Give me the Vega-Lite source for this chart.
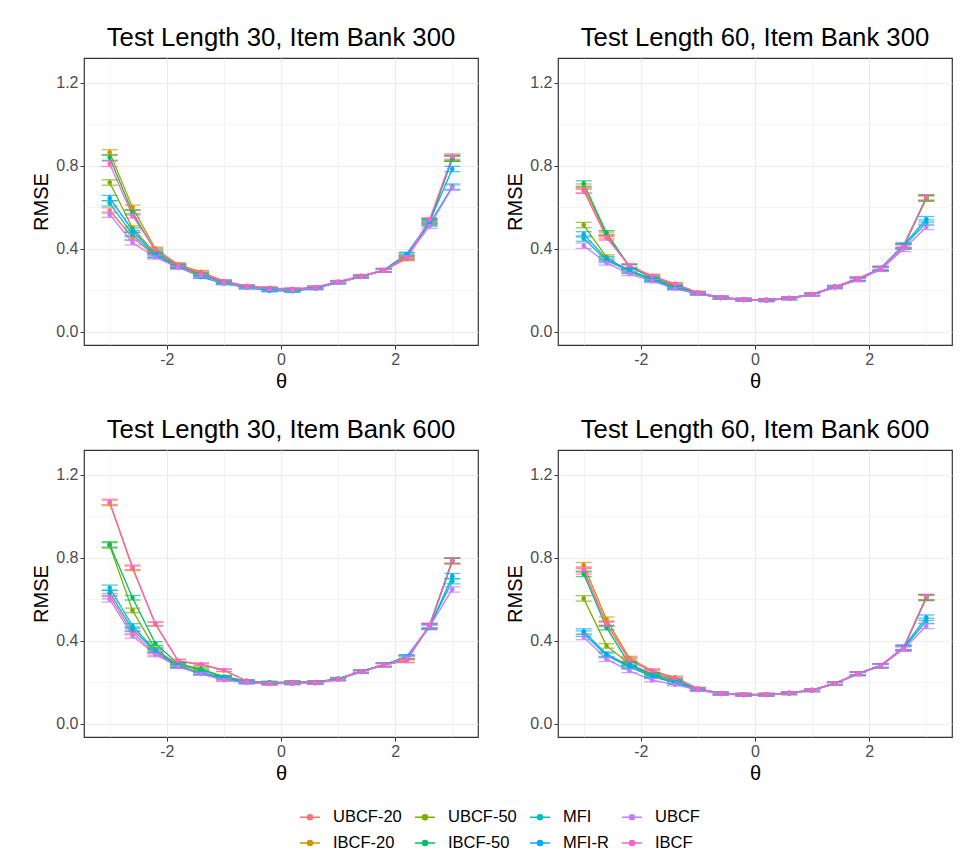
{
"$schema": "https://vega.github.io/schema/vega-lite/v6.json",
"padding": {"left": 31, "top": 24, "right": 10, "bottom": 10},
"config": {
 "font": "Liberation Sans",
 "view": {"stroke": "#333333", "strokeWidth": 1.2},
 "axis": {"labelFont": "Liberation Sans", "labelFontSize": 16, "labelColor": "#4D4D4D", "titleFont": "Liberation Sans", "titleFontSize": 20, "titleFontWeight": "normal", "titleColor": "black", "tickColor": "#333333", "tickSize": 4, "labelPadding": 2, "domain": false, "gridColor": "#EBEBEB"},
 "header": {"labelFont": "Liberation Sans", "labelFontSize": 25.7, "labelColor": "black"}
},
"data": {"values": [
{"p":"Test Length 30, Item Bank 300","m":"UBCF-20","t":-3,"r":0.585,"e":0.013},{"p":"Test Length 30, Item Bank 300","m":"UBCF-20","t":-2.6,"r":0.455,"e":0.011},{"p":"Test Length 30, Item Bank 300","m":"UBCF-20","t":-2.2,"r":0.365,"e":0.009},{"p":"Test Length 30, Item Bank 300","m":"UBCF-20","t":-1.8,"r":0.315,"e":0.008},{"p":"Test Length 30, Item Bank 300","m":"UBCF-20","t":-1.4,"r":0.275,"e":0.006},{"p":"Test Length 30, Item Bank 300","m":"UBCF-20","t":-1,"r":0.24,"e":0.006},{"p":"Test Length 30, Item Bank 300","m":"UBCF-20","t":-0.6,"r":0.217,"e":0.006},{"p":"Test Length 30, Item Bank 300","m":"UBCF-20","t":-0.2,"r":0.207,"e":0.006},{"p":"Test Length 30, Item Bank 300","m":"UBCF-20","t":0.2,"r":0.202,"e":0.006},{"p":"Test Length 30, Item Bank 300","m":"UBCF-20","t":0.6,"r":0.213,"e":0.006},{"p":"Test Length 30, Item Bank 300","m":"UBCF-20","t":1,"r":0.24,"e":0.006},{"p":"Test Length 30, Item Bank 300","m":"UBCF-20","t":1.4,"r":0.267,"e":0.006},{"p":"Test Length 30, Item Bank 300","m":"UBCF-20","t":1.8,"r":0.296,"e":0.008},{"p":"Test Length 30, Item Bank 300","m":"UBCF-20","t":2.2,"r":0.352,"e":0.009},{"p":"Test Length 30, Item Bank 300","m":"UBCF-20","t":2.6,"r":0.535,"e":0.011},{"p":"Test Length 30, Item Bank 300","m":"UBCF-20","t":3,"r":0.835,"e":0.013},
{"p":"Test Length 30, Item Bank 300","m":"IBCF-20","t":-3,"r":0.865,"e":0.013},{"p":"Test Length 30, Item Bank 300","m":"IBCF-20","t":-2.6,"r":0.6,"e":0.011},{"p":"Test Length 30, Item Bank 300","m":"IBCF-20","t":-2.2,"r":0.4,"e":0.009},{"p":"Test Length 30, Item Bank 300","m":"IBCF-20","t":-1.8,"r":0.325,"e":0.008},{"p":"Test Length 30, Item Bank 300","m":"IBCF-20","t":-1.4,"r":0.29,"e":0.006},{"p":"Test Length 30, Item Bank 300","m":"IBCF-20","t":-1,"r":0.245,"e":0.006},{"p":"Test Length 30, Item Bank 300","m":"IBCF-20","t":-0.6,"r":0.22,"e":0.006},{"p":"Test Length 30, Item Bank 300","m":"IBCF-20","t":-0.2,"r":0.21,"e":0.006},{"p":"Test Length 30, Item Bank 300","m":"IBCF-20","t":0.2,"r":0.205,"e":0.006},{"p":"Test Length 30, Item Bank 300","m":"IBCF-20","t":0.6,"r":0.215,"e":0.006},{"p":"Test Length 30, Item Bank 300","m":"IBCF-20","t":1,"r":0.24,"e":0.006},{"p":"Test Length 30, Item Bank 300","m":"IBCF-20","t":1.4,"r":0.27,"e":0.006},{"p":"Test Length 30, Item Bank 300","m":"IBCF-20","t":1.8,"r":0.295,"e":0.008},{"p":"Test Length 30, Item Bank 300","m":"IBCF-20","t":2.2,"r":0.355,"e":0.009},{"p":"Test Length 30, Item Bank 300","m":"IBCF-20","t":2.6,"r":0.53,"e":0.011},{"p":"Test Length 30, Item Bank 300","m":"IBCF-20","t":3,"r":0.84,"e":0.013},
{"p":"Test Length 30, Item Bank 300","m":"UBCF-50","t":-3,"r":0.72,"e":0.013},{"p":"Test Length 30, Item Bank 300","m":"UBCF-50","t":-2.6,"r":0.5,"e":0.011},{"p":"Test Length 30, Item Bank 300","m":"UBCF-50","t":-2.2,"r":0.38,"e":0.009},{"p":"Test Length 30, Item Bank 300","m":"UBCF-50","t":-1.8,"r":0.318,"e":0.008},{"p":"Test Length 30, Item Bank 300","m":"UBCF-50","t":-1.4,"r":0.275,"e":0.006},{"p":"Test Length 30, Item Bank 300","m":"UBCF-50","t":-1,"r":0.24,"e":0.006},{"p":"Test Length 30, Item Bank 300","m":"UBCF-50","t":-0.6,"r":0.217,"e":0.006},{"p":"Test Length 30, Item Bank 300","m":"UBCF-50","t":-0.2,"r":0.205,"e":0.006},{"p":"Test Length 30, Item Bank 300","m":"UBCF-50","t":0.2,"r":0.2,"e":0.006},{"p":"Test Length 30, Item Bank 300","m":"UBCF-50","t":0.6,"r":0.212,"e":0.006},{"p":"Test Length 30, Item Bank 300","m":"UBCF-50","t":1,"r":0.24,"e":0.006},{"p":"Test Length 30, Item Bank 300","m":"UBCF-50","t":1.4,"r":0.268,"e":0.006},{"p":"Test Length 30, Item Bank 300","m":"UBCF-50","t":1.8,"r":0.296,"e":0.008},{"p":"Test Length 30, Item Bank 300","m":"UBCF-50","t":2.2,"r":0.365,"e":0.009},{"p":"Test Length 30, Item Bank 300","m":"UBCF-50","t":2.6,"r":0.525,"e":0.011},{"p":"Test Length 30, Item Bank 300","m":"UBCF-50","t":3,"r":0.835,"e":0.013},
{"p":"Test Length 30, Item Bank 300","m":"IBCF-50","t":-3,"r":0.84,"e":0.013},{"p":"Test Length 30, Item Bank 300","m":"IBCF-50","t":-2.6,"r":0.575,"e":0.011},{"p":"Test Length 30, Item Bank 300","m":"IBCF-50","t":-2.2,"r":0.39,"e":0.009},{"p":"Test Length 30, Item Bank 300","m":"IBCF-50","t":-1.8,"r":0.32,"e":0.008},{"p":"Test Length 30, Item Bank 300","m":"IBCF-50","t":-1.4,"r":0.28,"e":0.006},{"p":"Test Length 30, Item Bank 300","m":"IBCF-50","t":-1,"r":0.24,"e":0.006},{"p":"Test Length 30, Item Bank 300","m":"IBCF-50","t":-0.6,"r":0.218,"e":0.006},{"p":"Test Length 30, Item Bank 300","m":"IBCF-50","t":-0.2,"r":0.207,"e":0.006},{"p":"Test Length 30, Item Bank 300","m":"IBCF-50","t":0.2,"r":0.203,"e":0.006},{"p":"Test Length 30, Item Bank 300","m":"IBCF-50","t":0.6,"r":0.213,"e":0.006},{"p":"Test Length 30, Item Bank 300","m":"IBCF-50","t":1,"r":0.24,"e":0.006},{"p":"Test Length 30, Item Bank 300","m":"IBCF-50","t":1.4,"r":0.268,"e":0.006},{"p":"Test Length 30, Item Bank 300","m":"IBCF-50","t":1.8,"r":0.297,"e":0.008},{"p":"Test Length 30, Item Bank 300","m":"IBCF-50","t":2.2,"r":0.36,"e":0.009},{"p":"Test Length 30, Item Bank 300","m":"IBCF-50","t":2.6,"r":0.535,"e":0.011},{"p":"Test Length 30, Item Bank 300","m":"IBCF-50","t":3,"r":0.835,"e":0.013},
{"p":"Test Length 30, Item Bank 300","m":"MFI","t":-3,"r":0.62,"e":0.013},{"p":"Test Length 30, Item Bank 300","m":"MFI","t":-2.6,"r":0.47,"e":0.011},{"p":"Test Length 30, Item Bank 300","m":"MFI","t":-2.2,"r":0.368,"e":0.009},{"p":"Test Length 30, Item Bank 300","m":"MFI","t":-1.8,"r":0.312,"e":0.008},{"p":"Test Length 30, Item Bank 300","m":"MFI","t":-1.4,"r":0.265,"e":0.006},{"p":"Test Length 30, Item Bank 300","m":"MFI","t":-1,"r":0.233,"e":0.006},{"p":"Test Length 30, Item Bank 300","m":"MFI","t":-0.6,"r":0.213,"e":0.006},{"p":"Test Length 30, Item Bank 300","m":"MFI","t":-0.2,"r":0.2,"e":0.006},{"p":"Test Length 30, Item Bank 300","m":"MFI","t":0.2,"r":0.197,"e":0.006},{"p":"Test Length 30, Item Bank 300","m":"MFI","t":0.6,"r":0.21,"e":0.006},{"p":"Test Length 30, Item Bank 300","m":"MFI","t":1,"r":0.238,"e":0.006},{"p":"Test Length 30, Item Bank 300","m":"MFI","t":1.4,"r":0.265,"e":0.006},{"p":"Test Length 30, Item Bank 300","m":"MFI","t":1.8,"r":0.297,"e":0.008},{"p":"Test Length 30, Item Bank 300","m":"MFI","t":2.2,"r":0.372,"e":0.009},{"p":"Test Length 30, Item Bank 300","m":"MFI","t":2.6,"r":0.52,"e":0.011},{"p":"Test Length 30, Item Bank 300","m":"MFI","t":3,"r":0.7,"e":0.013},
{"p":"Test Length 30, Item Bank 300","m":"MFI-R","t":-3,"r":0.645,"e":0.013},{"p":"Test Length 30, Item Bank 300","m":"MFI-R","t":-2.6,"r":0.49,"e":0.011},{"p":"Test Length 30, Item Bank 300","m":"MFI-R","t":-2.2,"r":0.37,"e":0.009},{"p":"Test Length 30, Item Bank 300","m":"MFI-R","t":-1.8,"r":0.315,"e":0.008},{"p":"Test Length 30, Item Bank 300","m":"MFI-R","t":-1.4,"r":0.265,"e":0.006},{"p":"Test Length 30, Item Bank 300","m":"MFI-R","t":-1,"r":0.235,"e":0.006},{"p":"Test Length 30, Item Bank 300","m":"MFI-R","t":-0.6,"r":0.215,"e":0.006},{"p":"Test Length 30, Item Bank 300","m":"MFI-R","t":-0.2,"r":0.2,"e":0.006},{"p":"Test Length 30, Item Bank 300","m":"MFI-R","t":0.2,"r":0.197,"e":0.006},{"p":"Test Length 30, Item Bank 300","m":"MFI-R","t":0.6,"r":0.21,"e":0.006},{"p":"Test Length 30, Item Bank 300","m":"MFI-R","t":1,"r":0.238,"e":0.006},{"p":"Test Length 30, Item Bank 300","m":"MFI-R","t":1.4,"r":0.266,"e":0.006},{"p":"Test Length 30, Item Bank 300","m":"MFI-R","t":1.8,"r":0.298,"e":0.008},{"p":"Test Length 30, Item Bank 300","m":"MFI-R","t":2.2,"r":0.375,"e":0.009},{"p":"Test Length 30, Item Bank 300","m":"MFI-R","t":2.6,"r":0.53,"e":0.011},{"p":"Test Length 30, Item Bank 300","m":"MFI-R","t":3,"r":0.785,"e":0.013},
{"p":"Test Length 30, Item Bank 300","m":"UBCF","t":-3,"r":0.565,"e":0.013},{"p":"Test Length 30, Item Bank 300","m":"UBCF","t":-2.6,"r":0.43,"e":0.011},{"p":"Test Length 30, Item Bank 300","m":"UBCF","t":-2.2,"r":0.36,"e":0.009},{"p":"Test Length 30, Item Bank 300","m":"UBCF","t":-1.8,"r":0.31,"e":0.008},{"p":"Test Length 30, Item Bank 300","m":"UBCF","t":-1.4,"r":0.27,"e":0.006},{"p":"Test Length 30, Item Bank 300","m":"UBCF","t":-1,"r":0.235,"e":0.006},{"p":"Test Length 30, Item Bank 300","m":"UBCF","t":-0.6,"r":0.215,"e":0.006},{"p":"Test Length 30, Item Bank 300","m":"UBCF","t":-0.2,"r":0.205,"e":0.006},{"p":"Test Length 30, Item Bank 300","m":"UBCF","t":0.2,"r":0.2,"e":0.006},{"p":"Test Length 30, Item Bank 300","m":"UBCF","t":0.6,"r":0.212,"e":0.006},{"p":"Test Length 30, Item Bank 300","m":"UBCF","t":1,"r":0.238,"e":0.006},{"p":"Test Length 30, Item Bank 300","m":"UBCF","t":1.4,"r":0.265,"e":0.006},{"p":"Test Length 30, Item Bank 300","m":"UBCF","t":1.8,"r":0.295,"e":0.008},{"p":"Test Length 30, Item Bank 300","m":"UBCF","t":2.2,"r":0.36,"e":0.009},{"p":"Test Length 30, Item Bank 300","m":"UBCF","t":2.6,"r":0.51,"e":0.011},{"p":"Test Length 30, Item Bank 300","m":"UBCF","t":3,"r":0.695,"e":0.013},
{"p":"Test Length 30, Item Bank 300","m":"IBCF","t":-3,"r":0.81,"e":0.013},{"p":"Test Length 30, Item Bank 300","m":"IBCF","t":-2.6,"r":0.56,"e":0.011},{"p":"Test Length 30, Item Bank 300","m":"IBCF","t":-2.2,"r":0.395,"e":0.009},{"p":"Test Length 30, Item Bank 300","m":"IBCF","t":-1.8,"r":0.322,"e":0.008},{"p":"Test Length 30, Item Bank 300","m":"IBCF","t":-1.4,"r":0.285,"e":0.006},{"p":"Test Length 30, Item Bank 300","m":"IBCF","t":-1,"r":0.245,"e":0.006},{"p":"Test Length 30, Item Bank 300","m":"IBCF","t":-0.6,"r":0.222,"e":0.006},{"p":"Test Length 30, Item Bank 300","m":"IBCF","t":-0.2,"r":0.212,"e":0.006},{"p":"Test Length 30, Item Bank 300","m":"IBCF","t":0.2,"r":0.207,"e":0.006},{"p":"Test Length 30, Item Bank 300","m":"IBCF","t":0.6,"r":0.216,"e":0.006},{"p":"Test Length 30, Item Bank 300","m":"IBCF","t":1,"r":0.242,"e":0.006},{"p":"Test Length 30, Item Bank 300","m":"IBCF","t":1.4,"r":0.27,"e":0.006},{"p":"Test Length 30, Item Bank 300","m":"IBCF","t":1.8,"r":0.298,"e":0.008},{"p":"Test Length 30, Item Bank 300","m":"IBCF","t":2.2,"r":0.358,"e":0.009},{"p":"Test Length 30, Item Bank 300","m":"IBCF","t":2.6,"r":0.54,"e":0.011},{"p":"Test Length 30, Item Bank 300","m":"IBCF","t":3,"r":0.845,"e":0.013},
{"p":"Test Length 60, Item Bank 300","m":"UBCF-20","t":-3,"r":0.68,"e":0.013},{"p":"Test Length 60, Item Bank 300","m":"UBCF-20","t":-2.6,"r":0.46,"e":0.011},{"p":"Test Length 60, Item Bank 300","m":"UBCF-20","t":-2.2,"r":0.315,"e":0.009},{"p":"Test Length 60, Item Bank 300","m":"UBCF-20","t":-1.8,"r":0.268,"e":0.008},{"p":"Test Length 60, Item Bank 300","m":"UBCF-20","t":-1.4,"r":0.23,"e":0.006},{"p":"Test Length 60, Item Bank 300","m":"UBCF-20","t":-1,"r":0.189,"e":0.006},{"p":"Test Length 60, Item Bank 300","m":"UBCF-20","t":-0.6,"r":0.166,"e":0.006},{"p":"Test Length 60, Item Bank 300","m":"UBCF-20","t":-0.2,"r":0.156,"e":0.006},{"p":"Test Length 60, Item Bank 300","m":"UBCF-20","t":0.2,"r":0.154,"e":0.006},{"p":"Test Length 60, Item Bank 300","m":"UBCF-20","t":0.6,"r":0.163,"e":0.006},{"p":"Test Length 60, Item Bank 300","m":"UBCF-20","t":1,"r":0.181,"e":0.006},{"p":"Test Length 60, Item Bank 300","m":"UBCF-20","t":1.4,"r":0.217,"e":0.006},{"p":"Test Length 60, Item Bank 300","m":"UBCF-20","t":1.8,"r":0.256,"e":0.008},{"p":"Test Length 60, Item Bank 300","m":"UBCF-20","t":2.2,"r":0.306,"e":0.009},{"p":"Test Length 60, Item Bank 300","m":"UBCF-20","t":2.6,"r":0.41,"e":0.011},{"p":"Test Length 60, Item Bank 300","m":"UBCF-20","t":3,"r":0.645,"e":0.013},
{"p":"Test Length 60, Item Bank 300","m":"IBCF-20","t":-3,"r":0.7,"e":0.013},{"p":"Test Length 60, Item Bank 300","m":"IBCF-20","t":-2.6,"r":0.47,"e":0.011},{"p":"Test Length 60, Item Bank 300","m":"IBCF-20","t":-2.2,"r":0.318,"e":0.009},{"p":"Test Length 60, Item Bank 300","m":"IBCF-20","t":-1.8,"r":0.265,"e":0.008},{"p":"Test Length 60, Item Bank 300","m":"IBCF-20","t":-1.4,"r":0.225,"e":0.006},{"p":"Test Length 60, Item Bank 300","m":"IBCF-20","t":-1,"r":0.188,"e":0.006},{"p":"Test Length 60, Item Bank 300","m":"IBCF-20","t":-0.6,"r":0.166,"e":0.006},{"p":"Test Length 60, Item Bank 300","m":"IBCF-20","t":-0.2,"r":0.156,"e":0.006},{"p":"Test Length 60, Item Bank 300","m":"IBCF-20","t":0.2,"r":0.154,"e":0.006},{"p":"Test Length 60, Item Bank 300","m":"IBCF-20","t":0.6,"r":0.163,"e":0.006},{"p":"Test Length 60, Item Bank 300","m":"IBCF-20","t":1,"r":0.181,"e":0.006},{"p":"Test Length 60, Item Bank 300","m":"IBCF-20","t":1.4,"r":0.217,"e":0.006},{"p":"Test Length 60, Item Bank 300","m":"IBCF-20","t":1.8,"r":0.255,"e":0.008},{"p":"Test Length 60, Item Bank 300","m":"IBCF-20","t":2.2,"r":0.303,"e":0.009},{"p":"Test Length 60, Item Bank 300","m":"IBCF-20","t":2.6,"r":0.41,"e":0.011},{"p":"Test Length 60, Item Bank 300","m":"IBCF-20","t":3,"r":0.645,"e":0.013},
{"p":"Test Length 60, Item Bank 300","m":"UBCF-50","t":-3,"r":0.515,"e":0.013},{"p":"Test Length 60, Item Bank 300","m":"UBCF-50","t":-2.6,"r":0.36,"e":0.011},{"p":"Test Length 60, Item Bank 300","m":"UBCF-50","t":-2.2,"r":0.29,"e":0.009},{"p":"Test Length 60, Item Bank 300","m":"UBCF-50","t":-1.8,"r":0.252,"e":0.008},{"p":"Test Length 60, Item Bank 300","m":"UBCF-50","t":-1.4,"r":0.215,"e":0.006},{"p":"Test Length 60, Item Bank 300","m":"UBCF-50","t":-1,"r":0.185,"e":0.006},{"p":"Test Length 60, Item Bank 300","m":"UBCF-50","t":-0.6,"r":0.165,"e":0.006},{"p":"Test Length 60, Item Bank 300","m":"UBCF-50","t":-0.2,"r":0.155,"e":0.006},{"p":"Test Length 60, Item Bank 300","m":"UBCF-50","t":0.2,"r":0.153,"e":0.006},{"p":"Test Length 60, Item Bank 300","m":"UBCF-50","t":0.6,"r":0.162,"e":0.006},{"p":"Test Length 60, Item Bank 300","m":"UBCF-50","t":1,"r":0.18,"e":0.006},{"p":"Test Length 60, Item Bank 300","m":"UBCF-50","t":1.4,"r":0.216,"e":0.006},{"p":"Test Length 60, Item Bank 300","m":"UBCF-50","t":1.8,"r":0.254,"e":0.008},{"p":"Test Length 60, Item Bank 300","m":"UBCF-50","t":2.2,"r":0.304,"e":0.009},{"p":"Test Length 60, Item Bank 300","m":"UBCF-50","t":2.6,"r":0.415,"e":0.011},{"p":"Test Length 60, Item Bank 300","m":"UBCF-50","t":3,"r":0.642,"e":0.013},
{"p":"Test Length 60, Item Bank 300","m":"IBCF-50","t":-3,"r":0.715,"e":0.013},{"p":"Test Length 60, Item Bank 300","m":"IBCF-50","t":-2.6,"r":0.477,"e":0.011},{"p":"Test Length 60, Item Bank 300","m":"IBCF-50","t":-2.2,"r":0.315,"e":0.009},{"p":"Test Length 60, Item Bank 300","m":"IBCF-50","t":-1.8,"r":0.26,"e":0.008},{"p":"Test Length 60, Item Bank 300","m":"IBCF-50","t":-1.4,"r":0.22,"e":0.006},{"p":"Test Length 60, Item Bank 300","m":"IBCF-50","t":-1,"r":0.187,"e":0.006},{"p":"Test Length 60, Item Bank 300","m":"IBCF-50","t":-0.6,"r":0.166,"e":0.006},{"p":"Test Length 60, Item Bank 300","m":"IBCF-50","t":-0.2,"r":0.156,"e":0.006},{"p":"Test Length 60, Item Bank 300","m":"IBCF-50","t":0.2,"r":0.154,"e":0.006},{"p":"Test Length 60, Item Bank 300","m":"IBCF-50","t":0.6,"r":0.163,"e":0.006},{"p":"Test Length 60, Item Bank 300","m":"IBCF-50","t":1,"r":0.181,"e":0.006},{"p":"Test Length 60, Item Bank 300","m":"IBCF-50","t":1.4,"r":0.217,"e":0.006},{"p":"Test Length 60, Item Bank 300","m":"IBCF-50","t":1.8,"r":0.255,"e":0.008},{"p":"Test Length 60, Item Bank 300","m":"IBCF-50","t":2.2,"r":0.305,"e":0.009},{"p":"Test Length 60, Item Bank 300","m":"IBCF-50","t":2.6,"r":0.415,"e":0.011},{"p":"Test Length 60, Item Bank 300","m":"IBCF-50","t":3,"r":0.647,"e":0.013},
{"p":"Test Length 60, Item Bank 300","m":"MFI","t":-3,"r":0.45,"e":0.013},{"p":"Test Length 60, Item Bank 300","m":"MFI","t":-2.6,"r":0.345,"e":0.011},{"p":"Test Length 60, Item Bank 300","m":"MFI","t":-2.2,"r":0.292,"e":0.009},{"p":"Test Length 60, Item Bank 300","m":"MFI","t":-1.8,"r":0.25,"e":0.008},{"p":"Test Length 60, Item Bank 300","m":"MFI","t":-1.4,"r":0.21,"e":0.006},{"p":"Test Length 60, Item Bank 300","m":"MFI","t":-1,"r":0.184,"e":0.006},{"p":"Test Length 60, Item Bank 300","m":"MFI","t":-0.6,"r":0.164,"e":0.006},{"p":"Test Length 60, Item Bank 300","m":"MFI","t":-0.2,"r":0.154,"e":0.006},{"p":"Test Length 60, Item Bank 300","m":"MFI","t":0.2,"r":0.152,"e":0.006},{"p":"Test Length 60, Item Bank 300","m":"MFI","t":0.6,"r":0.161,"e":0.006},{"p":"Test Length 60, Item Bank 300","m":"MFI","t":1,"r":0.18,"e":0.006},{"p":"Test Length 60, Item Bank 300","m":"MFI","t":1.4,"r":0.215,"e":0.006},{"p":"Test Length 60, Item Bank 300","m":"MFI","t":1.8,"r":0.252,"e":0.008},{"p":"Test Length 60, Item Bank 300","m":"MFI","t":2.2,"r":0.303,"e":0.009},{"p":"Test Length 60, Item Bank 300","m":"MFI","t":2.6,"r":0.41,"e":0.011},{"p":"Test Length 60, Item Bank 300","m":"MFI","t":3,"r":0.527,"e":0.013},
{"p":"Test Length 60, Item Bank 300","m":"MFI-R","t":-3,"r":0.47,"e":0.013},{"p":"Test Length 60, Item Bank 300","m":"MFI-R","t":-2.6,"r":0.352,"e":0.011},{"p":"Test Length 60, Item Bank 300","m":"MFI-R","t":-2.2,"r":0.298,"e":0.009},{"p":"Test Length 60, Item Bank 300","m":"MFI-R","t":-1.8,"r":0.255,"e":0.008},{"p":"Test Length 60, Item Bank 300","m":"MFI-R","t":-1.4,"r":0.213,"e":0.006},{"p":"Test Length 60, Item Bank 300","m":"MFI-R","t":-1,"r":0.185,"e":0.006},{"p":"Test Length 60, Item Bank 300","m":"MFI-R","t":-0.6,"r":0.164,"e":0.006},{"p":"Test Length 60, Item Bank 300","m":"MFI-R","t":-0.2,"r":0.154,"e":0.006},{"p":"Test Length 60, Item Bank 300","m":"MFI-R","t":0.2,"r":0.153,"e":0.006},{"p":"Test Length 60, Item Bank 300","m":"MFI-R","t":0.6,"r":0.162,"e":0.006},{"p":"Test Length 60, Item Bank 300","m":"MFI-R","t":1,"r":0.182,"e":0.006},{"p":"Test Length 60, Item Bank 300","m":"MFI-R","t":1.4,"r":0.218,"e":0.006},{"p":"Test Length 60, Item Bank 300","m":"MFI-R","t":1.8,"r":0.254,"e":0.008},{"p":"Test Length 60, Item Bank 300","m":"MFI-R","t":2.2,"r":0.308,"e":0.009},{"p":"Test Length 60, Item Bank 300","m":"MFI-R","t":2.6,"r":0.418,"e":0.011},{"p":"Test Length 60, Item Bank 300","m":"MFI-R","t":3,"r":0.543,"e":0.013},
{"p":"Test Length 60, Item Bank 300","m":"UBCF","t":-3,"r":0.415,"e":0.013},{"p":"Test Length 60, Item Bank 300","m":"UBCF","t":-2.6,"r":0.333,"e":0.011},{"p":"Test Length 60, Item Bank 300","m":"UBCF","t":-2.2,"r":0.28,"e":0.009},{"p":"Test Length 60, Item Bank 300","m":"UBCF","t":-1.8,"r":0.245,"e":0.008},{"p":"Test Length 60, Item Bank 300","m":"UBCF","t":-1.4,"r":0.208,"e":0.006},{"p":"Test Length 60, Item Bank 300","m":"UBCF","t":-1,"r":0.183,"e":0.006},{"p":"Test Length 60, Item Bank 300","m":"UBCF","t":-0.6,"r":0.163,"e":0.006},{"p":"Test Length 60, Item Bank 300","m":"UBCF","t":-0.2,"r":0.153,"e":0.006},{"p":"Test Length 60, Item Bank 300","m":"UBCF","t":0.2,"r":0.152,"e":0.006},{"p":"Test Length 60, Item Bank 300","m":"UBCF","t":0.6,"r":0.161,"e":0.006},{"p":"Test Length 60, Item Bank 300","m":"UBCF","t":1,"r":0.179,"e":0.006},{"p":"Test Length 60, Item Bank 300","m":"UBCF","t":1.4,"r":0.214,"e":0.006},{"p":"Test Length 60, Item Bank 300","m":"UBCF","t":1.8,"r":0.25,"e":0.008},{"p":"Test Length 60, Item Bank 300","m":"UBCF","t":2.2,"r":0.3,"e":0.009},{"p":"Test Length 60, Item Bank 300","m":"UBCF","t":2.6,"r":0.398,"e":0.011},{"p":"Test Length 60, Item Bank 300","m":"UBCF","t":3,"r":0.506,"e":0.013},
{"p":"Test Length 60, Item Bank 300","m":"IBCF","t":-3,"r":0.683,"e":0.013},{"p":"Test Length 60, Item Bank 300","m":"IBCF","t":-2.6,"r":0.453,"e":0.011},{"p":"Test Length 60, Item Bank 300","m":"IBCF","t":-2.2,"r":0.32,"e":0.009},{"p":"Test Length 60, Item Bank 300","m":"IBCF","t":-1.8,"r":0.27,"e":0.008},{"p":"Test Length 60, Item Bank 300","m":"IBCF","t":-1.4,"r":0.232,"e":0.006},{"p":"Test Length 60, Item Bank 300","m":"IBCF","t":-1,"r":0.19,"e":0.006},{"p":"Test Length 60, Item Bank 300","m":"IBCF","t":-0.6,"r":0.167,"e":0.006},{"p":"Test Length 60, Item Bank 300","m":"IBCF","t":-0.2,"r":0.157,"e":0.006},{"p":"Test Length 60, Item Bank 300","m":"IBCF","t":0.2,"r":0.155,"e":0.006},{"p":"Test Length 60, Item Bank 300","m":"IBCF","t":0.6,"r":0.164,"e":0.006},{"p":"Test Length 60, Item Bank 300","m":"IBCF","t":1,"r":0.182,"e":0.006},{"p":"Test Length 60, Item Bank 300","m":"IBCF","t":1.4,"r":0.218,"e":0.006},{"p":"Test Length 60, Item Bank 300","m":"IBCF","t":1.8,"r":0.257,"e":0.008},{"p":"Test Length 60, Item Bank 300","m":"IBCF","t":2.2,"r":0.307,"e":0.009},{"p":"Test Length 60, Item Bank 300","m":"IBCF","t":2.6,"r":0.412,"e":0.011},{"p":"Test Length 60, Item Bank 300","m":"IBCF","t":3,"r":0.648,"e":0.013},
{"p":"Test Length 30, Item Bank 600","m":"UBCF-20","t":-3,"r":0.616,"e":0.013},{"p":"Test Length 30, Item Bank 600","m":"UBCF-20","t":-2.6,"r":0.44,"e":0.011},{"p":"Test Length 30, Item Bank 600","m":"UBCF-20","t":-2.2,"r":0.34,"e":0.009},{"p":"Test Length 30, Item Bank 600","m":"UBCF-20","t":-1.8,"r":0.28,"e":0.008},{"p":"Test Length 30, Item Bank 600","m":"UBCF-20","t":-1.4,"r":0.245,"e":0.006},{"p":"Test Length 30, Item Bank 600","m":"UBCF-20","t":-1,"r":0.215,"e":0.006},{"p":"Test Length 30, Item Bank 600","m":"UBCF-20","t":-0.6,"r":0.203,"e":0.006},{"p":"Test Length 30, Item Bank 600","m":"UBCF-20","t":-0.2,"r":0.194,"e":0.006},{"p":"Test Length 30, Item Bank 600","m":"UBCF-20","t":0.2,"r":0.197,"e":0.006},{"p":"Test Length 30, Item Bank 600","m":"UBCF-20","t":0.6,"r":0.198,"e":0.006},{"p":"Test Length 30, Item Bank 600","m":"UBCF-20","t":1,"r":0.215,"e":0.006},{"p":"Test Length 30, Item Bank 600","m":"UBCF-20","t":1.4,"r":0.252,"e":0.006},{"p":"Test Length 30, Item Bank 600","m":"UBCF-20","t":1.8,"r":0.283,"e":0.008},{"p":"Test Length 30, Item Bank 600","m":"UBCF-20","t":2.2,"r":0.318,"e":0.009},{"p":"Test Length 30, Item Bank 600","m":"UBCF-20","t":2.6,"r":0.472,"e":0.011},{"p":"Test Length 30, Item Bank 600","m":"UBCF-20","t":3,"r":0.785,"e":0.013},
{"p":"Test Length 30, Item Bank 600","m":"IBCF-20","t":-3,"r":1.065,"e":0.013},{"p":"Test Length 30, Item Bank 600","m":"IBCF-20","t":-2.6,"r":0.75,"e":0.011},{"p":"Test Length 30, Item Bank 600","m":"IBCF-20","t":-2.2,"r":0.48,"e":0.009},{"p":"Test Length 30, Item Bank 600","m":"IBCF-20","t":-1.8,"r":0.302,"e":0.008},{"p":"Test Length 30, Item Bank 600","m":"IBCF-20","t":-1.4,"r":0.285,"e":0.006},{"p":"Test Length 30, Item Bank 600","m":"IBCF-20","t":-1,"r":0.258,"e":0.006},{"p":"Test Length 30, Item Bank 600","m":"IBCF-20","t":-0.6,"r":0.207,"e":0.006},{"p":"Test Length 30, Item Bank 600","m":"IBCF-20","t":-0.2,"r":0.197,"e":0.006},{"p":"Test Length 30, Item Bank 600","m":"IBCF-20","t":0.2,"r":0.2,"e":0.006},{"p":"Test Length 30, Item Bank 600","m":"IBCF-20","t":0.6,"r":0.2,"e":0.006},{"p":"Test Length 30, Item Bank 600","m":"IBCF-20","t":1,"r":0.216,"e":0.006},{"p":"Test Length 30, Item Bank 600","m":"IBCF-20","t":1.4,"r":0.253,"e":0.006},{"p":"Test Length 30, Item Bank 600","m":"IBCF-20","t":1.8,"r":0.285,"e":0.008},{"p":"Test Length 30, Item Bank 600","m":"IBCF-20","t":2.2,"r":0.306,"e":0.009},{"p":"Test Length 30, Item Bank 600","m":"IBCF-20","t":2.6,"r":0.472,"e":0.011},{"p":"Test Length 30, Item Bank 600","m":"IBCF-20","t":3,"r":0.785,"e":0.013},
{"p":"Test Length 30, Item Bank 600","m":"UBCF-50","t":-3,"r":0.86,"e":0.013},{"p":"Test Length 30, Item Bank 600","m":"UBCF-50","t":-2.6,"r":0.547,"e":0.011},{"p":"Test Length 30, Item Bank 600","m":"UBCF-50","t":-2.2,"r":0.36,"e":0.009},{"p":"Test Length 30, Item Bank 600","m":"UBCF-50","t":-1.8,"r":0.285,"e":0.008},{"p":"Test Length 30, Item Bank 600","m":"UBCF-50","t":-1.4,"r":0.258,"e":0.006},{"p":"Test Length 30, Item Bank 600","m":"UBCF-50","t":-1,"r":0.225,"e":0.006},{"p":"Test Length 30, Item Bank 600","m":"UBCF-50","t":-0.6,"r":0.205,"e":0.006},{"p":"Test Length 30, Item Bank 600","m":"UBCF-50","t":-0.2,"r":0.198,"e":0.006},{"p":"Test Length 30, Item Bank 600","m":"UBCF-50","t":0.2,"r":0.2,"e":0.006},{"p":"Test Length 30, Item Bank 600","m":"UBCF-50","t":0.6,"r":0.2,"e":0.006},{"p":"Test Length 30, Item Bank 600","m":"UBCF-50","t":1,"r":0.216,"e":0.006},{"p":"Test Length 30, Item Bank 600","m":"UBCF-50","t":1.4,"r":0.253,"e":0.006},{"p":"Test Length 30, Item Bank 600","m":"UBCF-50","t":1.8,"r":0.284,"e":0.008},{"p":"Test Length 30, Item Bank 600","m":"UBCF-50","t":2.2,"r":0.32,"e":0.009},{"p":"Test Length 30, Item Bank 600","m":"UBCF-50","t":2.6,"r":0.47,"e":0.011},{"p":"Test Length 30, Item Bank 600","m":"UBCF-50","t":3,"r":0.785,"e":0.013},
{"p":"Test Length 30, Item Bank 600","m":"IBCF-50","t":-3,"r":0.865,"e":0.013},{"p":"Test Length 30, Item Bank 600","m":"IBCF-50","t":-2.6,"r":0.608,"e":0.011},{"p":"Test Length 30, Item Bank 600","m":"IBCF-50","t":-2.2,"r":0.387,"e":0.009},{"p":"Test Length 30, Item Bank 600","m":"IBCF-50","t":-1.8,"r":0.29,"e":0.008},{"p":"Test Length 30, Item Bank 600","m":"IBCF-50","t":-1.4,"r":0.264,"e":0.006},{"p":"Test Length 30, Item Bank 600","m":"IBCF-50","t":-1,"r":0.228,"e":0.006},{"p":"Test Length 30, Item Bank 600","m":"IBCF-50","t":-0.6,"r":0.207,"e":0.006},{"p":"Test Length 30, Item Bank 600","m":"IBCF-50","t":-0.2,"r":0.2,"e":0.006},{"p":"Test Length 30, Item Bank 600","m":"IBCF-50","t":0.2,"r":0.202,"e":0.006},{"p":"Test Length 30, Item Bank 600","m":"IBCF-50","t":0.6,"r":0.202,"e":0.006},{"p":"Test Length 30, Item Bank 600","m":"IBCF-50","t":1,"r":0.218,"e":0.006},{"p":"Test Length 30, Item Bank 600","m":"IBCF-50","t":1.4,"r":0.254,"e":0.006},{"p":"Test Length 30, Item Bank 600","m":"IBCF-50","t":1.8,"r":0.285,"e":0.008},{"p":"Test Length 30, Item Bank 600","m":"IBCF-50","t":2.2,"r":0.32,"e":0.009},{"p":"Test Length 30, Item Bank 600","m":"IBCF-50","t":2.6,"r":0.472,"e":0.011},{"p":"Test Length 30, Item Bank 600","m":"IBCF-50","t":3,"r":0.787,"e":0.013},
{"p":"Test Length 30, Item Bank 600","m":"MFI","t":-3,"r":0.656,"e":0.013},{"p":"Test Length 30, Item Bank 600","m":"MFI","t":-2.6,"r":0.472,"e":0.011},{"p":"Test Length 30, Item Bank 600","m":"MFI","t":-2.2,"r":0.355,"e":0.009},{"p":"Test Length 30, Item Bank 600","m":"MFI","t":-1.8,"r":0.28,"e":0.008},{"p":"Test Length 30, Item Bank 600","m":"MFI","t":-1.4,"r":0.245,"e":0.006},{"p":"Test Length 30, Item Bank 600","m":"MFI","t":-1,"r":0.224,"e":0.006},{"p":"Test Length 30, Item Bank 600","m":"MFI","t":-0.6,"r":0.203,"e":0.006},{"p":"Test Length 30, Item Bank 600","m":"MFI","t":-0.2,"r":0.196,"e":0.006},{"p":"Test Length 30, Item Bank 600","m":"MFI","t":0.2,"r":0.197,"e":0.006},{"p":"Test Length 30, Item Bank 600","m":"MFI","t":0.6,"r":0.198,"e":0.006},{"p":"Test Length 30, Item Bank 600","m":"MFI","t":1,"r":0.216,"e":0.006},{"p":"Test Length 30, Item Bank 600","m":"MFI","t":1.4,"r":0.252,"e":0.006},{"p":"Test Length 30, Item Bank 600","m":"MFI","t":1.8,"r":0.285,"e":0.008},{"p":"Test Length 30, Item Bank 600","m":"MFI","t":2.2,"r":0.322,"e":0.009},{"p":"Test Length 30, Item Bank 600","m":"MFI","t":2.6,"r":0.47,"e":0.011},{"p":"Test Length 30, Item Bank 600","m":"MFI","t":3,"r":0.688,"e":0.013},
{"p":"Test Length 30, Item Bank 600","m":"MFI-R","t":-3,"r":0.632,"e":0.013},{"p":"Test Length 30, Item Bank 600","m":"MFI-R","t":-2.6,"r":0.456,"e":0.011},{"p":"Test Length 30, Item Bank 600","m":"MFI-R","t":-2.2,"r":0.35,"e":0.009},{"p":"Test Length 30, Item Bank 600","m":"MFI-R","t":-1.8,"r":0.278,"e":0.008},{"p":"Test Length 30, Item Bank 600","m":"MFI-R","t":-1.4,"r":0.243,"e":0.006},{"p":"Test Length 30, Item Bank 600","m":"MFI-R","t":-1,"r":0.222,"e":0.006},{"p":"Test Length 30, Item Bank 600","m":"MFI-R","t":-0.6,"r":0.2,"e":0.006},{"p":"Test Length 30, Item Bank 600","m":"MFI-R","t":-0.2,"r":0.195,"e":0.006},{"p":"Test Length 30, Item Bank 600","m":"MFI-R","t":0.2,"r":0.195,"e":0.006},{"p":"Test Length 30, Item Bank 600","m":"MFI-R","t":0.6,"r":0.197,"e":0.006},{"p":"Test Length 30, Item Bank 600","m":"MFI-R","t":1,"r":0.215,"e":0.006},{"p":"Test Length 30, Item Bank 600","m":"MFI-R","t":1.4,"r":0.251,"e":0.006},{"p":"Test Length 30, Item Bank 600","m":"MFI-R","t":1.8,"r":0.284,"e":0.008},{"p":"Test Length 30, Item Bank 600","m":"MFI-R","t":2.2,"r":0.325,"e":0.009},{"p":"Test Length 30, Item Bank 600","m":"MFI-R","t":2.6,"r":0.465,"e":0.011},{"p":"Test Length 30, Item Bank 600","m":"MFI-R","t":3,"r":0.712,"e":0.013},
{"p":"Test Length 30, Item Bank 600","m":"UBCF","t":-3,"r":0.6,"e":0.013},{"p":"Test Length 30, Item Bank 600","m":"UBCF","t":-2.6,"r":0.424,"e":0.011},{"p":"Test Length 30, Item Bank 600","m":"UBCF","t":-2.2,"r":0.333,"e":0.009},{"p":"Test Length 30, Item Bank 600","m":"UBCF","t":-1.8,"r":0.275,"e":0.008},{"p":"Test Length 30, Item Bank 600","m":"UBCF","t":-1.4,"r":0.24,"e":0.006},{"p":"Test Length 30, Item Bank 600","m":"UBCF","t":-1,"r":0.211,"e":0.006},{"p":"Test Length 30, Item Bank 600","m":"UBCF","t":-0.6,"r":0.198,"e":0.006},{"p":"Test Length 30, Item Bank 600","m":"UBCF","t":-0.2,"r":0.193,"e":0.006},{"p":"Test Length 30, Item Bank 600","m":"UBCF","t":0.2,"r":0.195,"e":0.006},{"p":"Test Length 30, Item Bank 600","m":"UBCF","t":0.6,"r":0.196,"e":0.006},{"p":"Test Length 30, Item Bank 600","m":"UBCF","t":1,"r":0.214,"e":0.006},{"p":"Test Length 30, Item Bank 600","m":"UBCF","t":1.4,"r":0.25,"e":0.006},{"p":"Test Length 30, Item Bank 600","m":"UBCF","t":1.8,"r":0.282,"e":0.008},{"p":"Test Length 30, Item Bank 600","m":"UBCF","t":2.2,"r":0.32,"e":0.009},{"p":"Test Length 30, Item Bank 600","m":"UBCF","t":2.6,"r":0.468,"e":0.011},{"p":"Test Length 30, Item Bank 600","m":"UBCF","t":3,"r":0.648,"e":0.013},
{"p":"Test Length 30, Item Bank 600","m":"IBCF","t":-3,"r":1.07,"e":0.013},{"p":"Test Length 30, Item Bank 600","m":"IBCF","t":-2.6,"r":0.755,"e":0.011},{"p":"Test Length 30, Item Bank 600","m":"IBCF","t":-2.2,"r":0.483,"e":0.009},{"p":"Test Length 30, Item Bank 600","m":"IBCF","t":-1.8,"r":0.304,"e":0.008},{"p":"Test Length 30, Item Bank 600","m":"IBCF","t":-1.4,"r":0.288,"e":0.006},{"p":"Test Length 30, Item Bank 600","m":"IBCF","t":-1,"r":0.259,"e":0.006},{"p":"Test Length 30, Item Bank 600","m":"IBCF","t":-0.6,"r":0.207,"e":0.006},{"p":"Test Length 30, Item Bank 600","m":"IBCF","t":-0.2,"r":0.196,"e":0.006},{"p":"Test Length 30, Item Bank 600","m":"IBCF","t":0.2,"r":0.2,"e":0.006},{"p":"Test Length 30, Item Bank 600","m":"IBCF","t":0.6,"r":0.2,"e":0.006},{"p":"Test Length 30, Item Bank 600","m":"IBCF","t":1,"r":0.216,"e":0.006},{"p":"Test Length 30, Item Bank 600","m":"IBCF","t":1.4,"r":0.253,"e":0.006},{"p":"Test Length 30, Item Bank 600","m":"IBCF","t":1.8,"r":0.285,"e":0.008},{"p":"Test Length 30, Item Bank 600","m":"IBCF","t":2.2,"r":0.304,"e":0.009},{"p":"Test Length 30, Item Bank 600","m":"IBCF","t":2.6,"r":0.475,"e":0.011},{"p":"Test Length 30, Item Bank 600","m":"IBCF","t":3,"r":0.787,"e":0.013},
{"p":"Test Length 60, Item Bank 600","m":"UBCF-20","t":-3,"r":0.735,"e":0.013},{"p":"Test Length 60, Item Bank 600","m":"UBCF-20","t":-2.6,"r":0.485,"e":0.011},{"p":"Test Length 60, Item Bank 600","m":"UBCF-20","t":-2.2,"r":0.31,"e":0.009},{"p":"Test Length 60, Item Bank 600","m":"UBCF-20","t":-1.8,"r":0.25,"e":0.008},{"p":"Test Length 60, Item Bank 600","m":"UBCF-20","t":-1.4,"r":0.215,"e":0.006},{"p":"Test Length 60, Item Bank 600","m":"UBCF-20","t":-1,"r":0.168,"e":0.006},{"p":"Test Length 60, Item Bank 600","m":"UBCF-20","t":-0.6,"r":0.147,"e":0.006},{"p":"Test Length 60, Item Bank 600","m":"UBCF-20","t":-0.2,"r":0.141,"e":0.006},{"p":"Test Length 60, Item Bank 600","m":"UBCF-20","t":0.2,"r":0.141,"e":0.006},{"p":"Test Length 60, Item Bank 600","m":"UBCF-20","t":0.6,"r":0.149,"e":0.006},{"p":"Test Length 60, Item Bank 600","m":"UBCF-20","t":1,"r":0.163,"e":0.006},{"p":"Test Length 60, Item Bank 600","m":"UBCF-20","t":1.4,"r":0.195,"e":0.006},{"p":"Test Length 60, Item Bank 600","m":"UBCF-20","t":1.8,"r":0.243,"e":0.008},{"p":"Test Length 60, Item Bank 600","m":"UBCF-20","t":2.2,"r":0.28,"e":0.009},{"p":"Test Length 60, Item Bank 600","m":"UBCF-20","t":2.6,"r":0.366,"e":0.011},{"p":"Test Length 60, Item Bank 600","m":"UBCF-20","t":3,"r":0.61,"e":0.013},
{"p":"Test Length 60, Item Bank 600","m":"IBCF-20","t":-3,"r":0.765,"e":0.013},{"p":"Test Length 60, Item Bank 600","m":"IBCF-20","t":-2.6,"r":0.504,"e":0.011},{"p":"Test Length 60, Item Bank 600","m":"IBCF-20","t":-2.2,"r":0.317,"e":0.009},{"p":"Test Length 60, Item Bank 600","m":"IBCF-20","t":-1.8,"r":0.256,"e":0.008},{"p":"Test Length 60, Item Bank 600","m":"IBCF-20","t":-1.4,"r":0.224,"e":0.006},{"p":"Test Length 60, Item Bank 600","m":"IBCF-20","t":-1,"r":0.17,"e":0.006},{"p":"Test Length 60, Item Bank 600","m":"IBCF-20","t":-0.6,"r":0.148,"e":0.006},{"p":"Test Length 60, Item Bank 600","m":"IBCF-20","t":-0.2,"r":0.142,"e":0.006},{"p":"Test Length 60, Item Bank 600","m":"IBCF-20","t":0.2,"r":0.142,"e":0.006},{"p":"Test Length 60, Item Bank 600","m":"IBCF-20","t":0.6,"r":0.149,"e":0.006},{"p":"Test Length 60, Item Bank 600","m":"IBCF-20","t":1,"r":0.163,"e":0.006},{"p":"Test Length 60, Item Bank 600","m":"IBCF-20","t":1.4,"r":0.195,"e":0.006},{"p":"Test Length 60, Item Bank 600","m":"IBCF-20","t":1.8,"r":0.243,"e":0.008},{"p":"Test Length 60, Item Bank 600","m":"IBCF-20","t":2.2,"r":0.28,"e":0.009},{"p":"Test Length 60, Item Bank 600","m":"IBCF-20","t":2.6,"r":0.365,"e":0.011},{"p":"Test Length 60, Item Bank 600","m":"IBCF-20","t":3,"r":0.61,"e":0.013},
{"p":"Test Length 60, Item Bank 600","m":"UBCF-50","t":-3,"r":0.605,"e":0.013},{"p":"Test Length 60, Item Bank 600","m":"UBCF-50","t":-2.6,"r":0.376,"e":0.011},{"p":"Test Length 60, Item Bank 600","m":"UBCF-50","t":-2.2,"r":0.29,"e":0.009},{"p":"Test Length 60, Item Bank 600","m":"UBCF-50","t":-1.8,"r":0.235,"e":0.008},{"p":"Test Length 60, Item Bank 600","m":"UBCF-50","t":-1.4,"r":0.2,"e":0.006},{"p":"Test Length 60, Item Bank 600","m":"UBCF-50","t":-1,"r":0.166,"e":0.006},{"p":"Test Length 60, Item Bank 600","m":"UBCF-50","t":-0.6,"r":0.146,"e":0.006},{"p":"Test Length 60, Item Bank 600","m":"UBCF-50","t":-0.2,"r":0.14,"e":0.006},{"p":"Test Length 60, Item Bank 600","m":"UBCF-50","t":0.2,"r":0.14,"e":0.006},{"p":"Test Length 60, Item Bank 600","m":"UBCF-50","t":0.6,"r":0.148,"e":0.006},{"p":"Test Length 60, Item Bank 600","m":"UBCF-50","t":1,"r":0.162,"e":0.006},{"p":"Test Length 60, Item Bank 600","m":"UBCF-50","t":1.4,"r":0.194,"e":0.006},{"p":"Test Length 60, Item Bank 600","m":"UBCF-50","t":1.8,"r":0.242,"e":0.008},{"p":"Test Length 60, Item Bank 600","m":"UBCF-50","t":2.2,"r":0.279,"e":0.009},{"p":"Test Length 60, Item Bank 600","m":"UBCF-50","t":2.6,"r":0.364,"e":0.011},{"p":"Test Length 60, Item Bank 600","m":"UBCF-50","t":3,"r":0.607,"e":0.013},
{"p":"Test Length 60, Item Bank 600","m":"IBCF-50","t":-3,"r":0.723,"e":0.013},{"p":"Test Length 60, Item Bank 600","m":"IBCF-50","t":-2.6,"r":0.464,"e":0.011},{"p":"Test Length 60, Item Bank 600","m":"IBCF-50","t":-2.2,"r":0.288,"e":0.009},{"p":"Test Length 60, Item Bank 600","m":"IBCF-50","t":-1.8,"r":0.24,"e":0.008},{"p":"Test Length 60, Item Bank 600","m":"IBCF-50","t":-1.4,"r":0.21,"e":0.006},{"p":"Test Length 60, Item Bank 600","m":"IBCF-50","t":-1,"r":0.168,"e":0.006},{"p":"Test Length 60, Item Bank 600","m":"IBCF-50","t":-0.6,"r":0.147,"e":0.006},{"p":"Test Length 60, Item Bank 600","m":"IBCF-50","t":-0.2,"r":0.141,"e":0.006},{"p":"Test Length 60, Item Bank 600","m":"IBCF-50","t":0.2,"r":0.141,"e":0.006},{"p":"Test Length 60, Item Bank 600","m":"IBCF-50","t":0.6,"r":0.149,"e":0.006},{"p":"Test Length 60, Item Bank 600","m":"IBCF-50","t":1,"r":0.163,"e":0.006},{"p":"Test Length 60, Item Bank 600","m":"IBCF-50","t":1.4,"r":0.195,"e":0.006},{"p":"Test Length 60, Item Bank 600","m":"IBCF-50","t":1.8,"r":0.243,"e":0.008},{"p":"Test Length 60, Item Bank 600","m":"IBCF-50","t":2.2,"r":0.28,"e":0.009},{"p":"Test Length 60, Item Bank 600","m":"IBCF-50","t":2.6,"r":0.365,"e":0.011},{"p":"Test Length 60, Item Bank 600","m":"IBCF-50","t":3,"r":0.61,"e":0.013},
{"p":"Test Length 60, Item Bank 600","m":"MFI","t":-3,"r":0.435,"e":0.013},{"p":"Test Length 60, Item Bank 600","m":"MFI","t":-2.6,"r":0.33,"e":0.011},{"p":"Test Length 60, Item Bank 600","m":"MFI","t":-2.2,"r":0.275,"e":0.009},{"p":"Test Length 60, Item Bank 600","m":"MFI","t":-1.8,"r":0.228,"e":0.008},{"p":"Test Length 60, Item Bank 600","m":"MFI","t":-1.4,"r":0.198,"e":0.006},{"p":"Test Length 60, Item Bank 600","m":"MFI","t":-1,"r":0.165,"e":0.006},{"p":"Test Length 60, Item Bank 600","m":"MFI","t":-0.6,"r":0.145,"e":0.006},{"p":"Test Length 60, Item Bank 600","m":"MFI","t":-0.2,"r":0.14,"e":0.006},{"p":"Test Length 60, Item Bank 600","m":"MFI","t":0.2,"r":0.14,"e":0.006},{"p":"Test Length 60, Item Bank 600","m":"MFI","t":0.6,"r":0.147,"e":0.006},{"p":"Test Length 60, Item Bank 600","m":"MFI","t":1,"r":0.162,"e":0.006},{"p":"Test Length 60, Item Bank 600","m":"MFI","t":1.4,"r":0.194,"e":0.006},{"p":"Test Length 60, Item Bank 600","m":"MFI","t":1.8,"r":0.24,"e":0.008},{"p":"Test Length 60, Item Bank 600","m":"MFI","t":2.2,"r":0.279,"e":0.009},{"p":"Test Length 60, Item Bank 600","m":"MFI","t":2.6,"r":0.365,"e":0.011},{"p":"Test Length 60, Item Bank 600","m":"MFI","t":3,"r":0.496,"e":0.013},
{"p":"Test Length 60, Item Bank 600","m":"MFI-R","t":-3,"r":0.445,"e":0.013},{"p":"Test Length 60, Item Bank 600","m":"MFI-R","t":-2.6,"r":0.336,"e":0.011},{"p":"Test Length 60, Item Bank 600","m":"MFI-R","t":-2.2,"r":0.28,"e":0.009},{"p":"Test Length 60, Item Bank 600","m":"MFI-R","t":-1.8,"r":0.232,"e":0.008},{"p":"Test Length 60, Item Bank 600","m":"MFI-R","t":-1.4,"r":0.2,"e":0.006},{"p":"Test Length 60, Item Bank 600","m":"MFI-R","t":-1,"r":0.166,"e":0.006},{"p":"Test Length 60, Item Bank 600","m":"MFI-R","t":-0.6,"r":0.146,"e":0.006},{"p":"Test Length 60, Item Bank 600","m":"MFI-R","t":-0.2,"r":0.14,"e":0.006},{"p":"Test Length 60, Item Bank 600","m":"MFI-R","t":0.2,"r":0.14,"e":0.006},{"p":"Test Length 60, Item Bank 600","m":"MFI-R","t":0.6,"r":0.148,"e":0.006},{"p":"Test Length 60, Item Bank 600","m":"MFI-R","t":1,"r":0.163,"e":0.006},{"p":"Test Length 60, Item Bank 600","m":"MFI-R","t":1.4,"r":0.196,"e":0.006},{"p":"Test Length 60, Item Bank 600","m":"MFI-R","t":1.8,"r":0.242,"e":0.008},{"p":"Test Length 60, Item Bank 600","m":"MFI-R","t":2.2,"r":0.282,"e":0.009},{"p":"Test Length 60, Item Bank 600","m":"MFI-R","t":2.6,"r":0.37,"e":0.011},{"p":"Test Length 60, Item Bank 600","m":"MFI-R","t":3,"r":0.512,"e":0.013},
{"p":"Test Length 60, Item Bank 600","m":"UBCF","t":-3,"r":0.419,"e":0.013},{"p":"Test Length 60, Item Bank 600","m":"UBCF","t":-2.6,"r":0.312,"e":0.011},{"p":"Test Length 60, Item Bank 600","m":"UBCF","t":-2.2,"r":0.256,"e":0.009},{"p":"Test Length 60, Item Bank 600","m":"UBCF","t":-1.8,"r":0.211,"e":0.008},{"p":"Test Length 60, Item Bank 600","m":"UBCF","t":-1.4,"r":0.189,"e":0.006},{"p":"Test Length 60, Item Bank 600","m":"UBCF","t":-1,"r":0.163,"e":0.006},{"p":"Test Length 60, Item Bank 600","m":"UBCF","t":-0.6,"r":0.144,"e":0.006},{"p":"Test Length 60, Item Bank 600","m":"UBCF","t":-0.2,"r":0.139,"e":0.006},{"p":"Test Length 60, Item Bank 600","m":"UBCF","t":0.2,"r":0.139,"e":0.006},{"p":"Test Length 60, Item Bank 600","m":"UBCF","t":0.6,"r":0.147,"e":0.006},{"p":"Test Length 60, Item Bank 600","m":"UBCF","t":1,"r":0.161,"e":0.006},{"p":"Test Length 60, Item Bank 600","m":"UBCF","t":1.4,"r":0.193,"e":0.006},{"p":"Test Length 60, Item Bank 600","m":"UBCF","t":1.8,"r":0.24,"e":0.008},{"p":"Test Length 60, Item Bank 600","m":"UBCF","t":2.2,"r":0.278,"e":0.009},{"p":"Test Length 60, Item Bank 600","m":"UBCF","t":2.6,"r":0.36,"e":0.011},{"p":"Test Length 60, Item Bank 600","m":"UBCF","t":3,"r":0.472,"e":0.013},
{"p":"Test Length 60, Item Bank 600","m":"IBCF","t":-3,"r":0.744,"e":0.013},{"p":"Test Length 60, Item Bank 600","m":"IBCF","t":-2.6,"r":0.48,"e":0.011},{"p":"Test Length 60, Item Bank 600","m":"IBCF","t":-2.2,"r":0.307,"e":0.009},{"p":"Test Length 60, Item Bank 600","m":"IBCF","t":-1.8,"r":0.256,"e":0.008},{"p":"Test Length 60, Item Bank 600","m":"IBCF","t":-1.4,"r":0.22,"e":0.006},{"p":"Test Length 60, Item Bank 600","m":"IBCF","t":-1,"r":0.17,"e":0.006},{"p":"Test Length 60, Item Bank 600","m":"IBCF","t":-0.6,"r":0.148,"e":0.006},{"p":"Test Length 60, Item Bank 600","m":"IBCF","t":-0.2,"r":0.142,"e":0.006},{"p":"Test Length 60, Item Bank 600","m":"IBCF","t":0.2,"r":0.142,"e":0.006},{"p":"Test Length 60, Item Bank 600","m":"IBCF","t":0.6,"r":0.15,"e":0.006},{"p":"Test Length 60, Item Bank 600","m":"IBCF","t":1,"r":0.164,"e":0.006},{"p":"Test Length 60, Item Bank 600","m":"IBCF","t":1.4,"r":0.196,"e":0.006},{"p":"Test Length 60, Item Bank 600","m":"IBCF","t":1.8,"r":0.244,"e":0.008},{"p":"Test Length 60, Item Bank 600","m":"IBCF","t":2.2,"r":0.281,"e":0.009},{"p":"Test Length 60, Item Bank 600","m":"IBCF","t":2.6,"r":0.367,"e":0.011},{"p":"Test Length 60, Item Bank 600","m":"IBCF","t":3,"r":0.612,"e":0.013}
]},
"facet": {"field": "p", "type": "nominal", "sort": ["Test Length 30, Item Bank 300", "Test Length 60, Item Bank 300", "Test Length 30, Item Bank 600", "Test Length 60, Item Bank 600"], "header": {"title": null, "labelPadding": 6}},
"columns": 2,
"spacing": {"row": 24, "column": 26},
"resolve": {"axis": {"x": "independent", "y": "independent"}},
"spec": {
 "width": 394,
 "height": 287,
 "encoding": {
  "x": {"field": "t", "type": "quantitative", "scale": {"domain": [-3.45, 3.45], "nice": false, "zero": false},
   "axis": {"title": "θ", "values": [-3, -2, -1, 0, 1, 2, 3], "labelExpr": "round(datum.value) % 2 === 0 ? toString(datum.value) : ''",
    "gridWidth": {"condition": {"test": "round(datum.value) % 2 === 0", "value": 1.1}, "value": 0.55},
    "tickOpacity": {"condition": {"test": "round(datum.value) % 2 === 0", "value": 1}, "value": 0}}},
  "y": {"field": "r", "type": "quantitative", "scale": {"domain": [-0.063, 1.32], "nice": false, "zero": false},
   "axis": {"title": "RMSE", "values": [0, 0.2, 0.4, 0.6, 0.8, 1, 1.2], "labelExpr": "round(datum.value * 10) % 4 === 0 ? format(datum.value, '.1f') : ''",
    "gridWidth": {"condition": {"test": "round(datum.value * 10) % 4 === 0", "value": 1.1}, "value": 0.55},
    "tickOpacity": {"condition": {"test": "round(datum.value * 10) % 4 === 0", "value": 1}, "value": 0}}},
  "color": {"field": "m", "type": "nominal",
   "scale": {"domain": ["UBCF-20", "UBCF-50", "MFI", "UBCF", "IBCF-20", "IBCF-50", "MFI-R", "IBCF"], "range": ["#F8766D", "#7CAE00", "#00BFC4", "#C77CFF", "#CD9600", "#00BE67", "#00A9FF", "#FF61CC"]},
   "legend": {"title": null, "orient": "none", "legendX": 215, "legendY": 748, "direction": "horizontal", "columns": 4, "labelFontSize": 16.5, "labelColor": "black", "labelFont": "Liberation Sans", "symbolType": "M-1,0L1,0M0.25,0A0.25,0.25,0,1,1,-0.25,0A0.25,0.25,0,1,1,0.25,0", "symbolSize": 400, "symbolStrokeWidth": 1.5, "columnPadding": 10, "rowPadding": 6, "labelOffset": 12,
    "encode": {"symbols": {"update": {"fill": {"scale": "color", "field": "value"}, "stroke": {"scale": "color", "field": "value"}, "opacity": {"value": 1}}}}}}
 },
 "layer": [
  {"mark": {"type": "line", "strokeWidth": 1.3}},
  {"mark": {"type": "errorbar", "ticks": {"size": 16}, "thickness": 1.3}, "encoding": {"yError": {"field": "e"}}},
  {"mark": {"type": "point", "filled": true, "size": 22, "opacity": 1}}
 ]
}
}
